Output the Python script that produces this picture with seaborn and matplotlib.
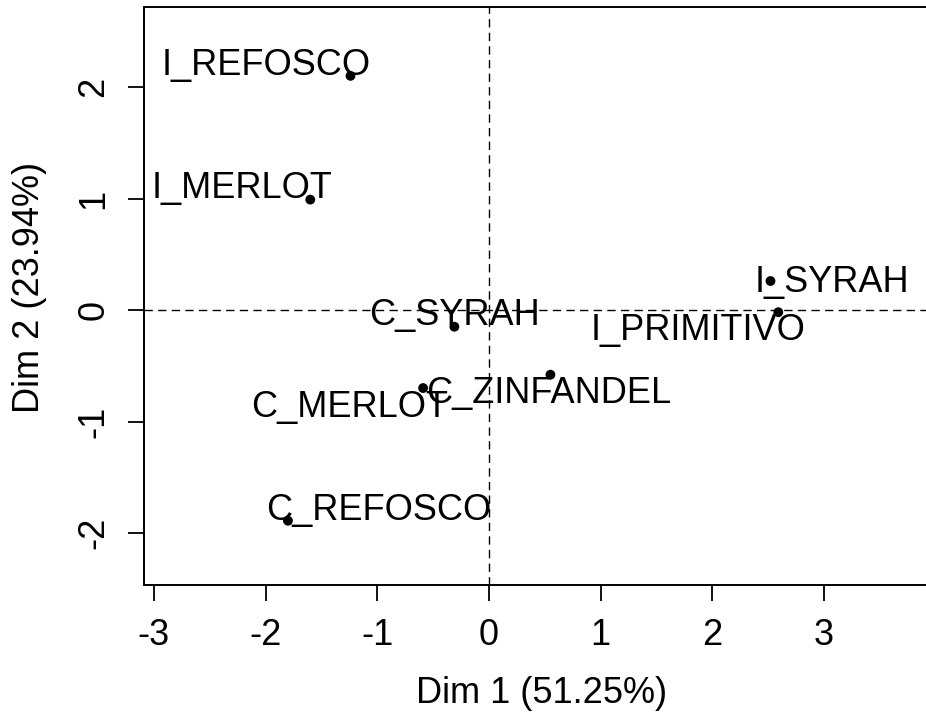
import matplotlib
matplotlib.use("Agg")
import matplotlib.pyplot as plt
import seaborn as sns
import pandas as pd

# Data (PCA individuals map)
labels = ["I_REFOSCO", "I_MERLOT", "I_SYRAH", "I_PRIMITIVO",
          "C_SYRAH", "C_MERLOT", "C_ZINFANDEL", "C_REFOSCO"]
dim1 = [-1.24, -1.60, 2.52, 2.59, -0.31, -0.59, 0.55, -1.80]
dim2 = [2.10, 0.99, 0.26, -0.02, -0.15, -0.70, -0.58, -1.89]
xticks = [-3, -2, -1, 0, 1, 2, 3]
yticks = [-2, -1, 0, 1, 2]
xlabel = "Dim 1 (51.25%)"
ylabel = "Dim 2 (23.94%)"

# label placement (pixel offsets of text centre/baseline from the point)
label_offsets = [(-84, 1), (-68, 2), (61, -11), (-80, -28),
                 (0, 2), (-73, -29), (-2, -28), (91, 1)]

df = pd.DataFrame({"label": labels, "Dim1": dim1, "Dim2": dim2})

sns.set_style("ticks")
plt.rcParams["font.family"] = ["Liberation Sans", "DejaVu Sans"]
plt.rcParams["text.color"] = "black"
plt.rcParams["axes.labelcolor"] = "black"

W, H = 926, 725
fig = plt.figure(figsize=(W / 100, H / 100), dpi=100)
left_px, right_px, top_px, bottom_px = 144, 935, 7, 585
ax = fig.add_axes([left_px / W, 1 - bottom_px / H,
                   (right_px - left_px) / W, (bottom_px - top_px) / H])

x0_px, y0_px, sx, sy = 489, 310, 111.7, 111.5
ax.set_xlim((left_px - x0_px) / sx, (right_px - x0_px) / sx)
ax.set_ylim((y0_px - bottom_px) / sy, (y0_px - top_px) / sy)

ax.axhline(0, color="black", lw=1, ls=(0, (6, 3.8)), zorder=1)
ax.axvline(0, color="black", lw=1, ls=(0, (6, 3.8)), zorder=1)

sns.scatterplot(data=df, x="Dim1", y="Dim2", color="black", s=50,
                edgecolor="none", ax=ax, zorder=3, legend=False)

for lab, x, y, (dx, dy) in zip(labels, dim1, dim2, label_offsets):
    ax.annotate(lab, (x, y), xytext=(dx, dy), textcoords="offset pixels",
                ha="center", va="baseline", fontsize=26, color="black",
                annotation_clip=False, clip_on=True)

ax.set_xticks(xticks)
ax.set_yticks(yticks)
ax.set_xticklabels([str(v) for v in xticks])
ax.set_yticklabels([str(v) for v in yticks], rotation=90, va="center")
ax.tick_params(axis="both", labelsize=26, length=11.5, width=1.3,
               color="black", labelcolor="black", direction="out")
ax.tick_params(axis="x", pad=12)
ax.tick_params(axis="y", pad=12)

for side in ["left", "bottom", "top"]:
    ax.spines[side].set_visible(True)
    ax.spines[side].set_linewidth(1.4)
    ax.spines[side].set_color("black")
ax.spines["right"].set_visible(False)

ax.set_xlabel(xlabel, fontsize=26, color="black")
ax.set_ylabel(ylabel, fontsize=26, color="black")
ax.xaxis.set_label_coords(0.502, -0.158)
ax.yaxis.set_label_coords(-0.122, 0.514)

fig.savefig("out.png", dpi=100, facecolor="white")
